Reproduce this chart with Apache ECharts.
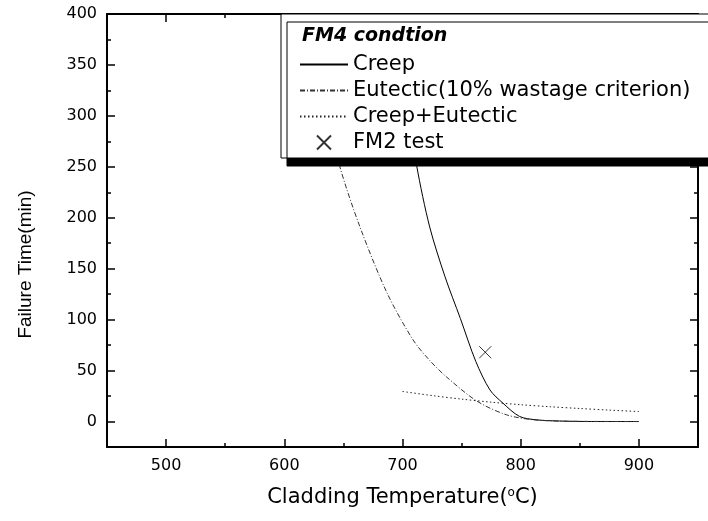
<!DOCTYPE html>
<html>
<head>
<meta charset="utf-8">
<script src="https://cdn.jsdelivr.net/npm/echarts@6/dist/echarts.min.js"></script>
<style>
html, body { margin: 0; padding: 0; background: #fff; }
#chart { width: 708px; height: 521px; }
</style>
</head>
<body>
<div id="chart"></div>
<script>
// 包壳温度 (°C) / 失效时间 (min)
var creepTemp = [690, 700, 712, 723, 736, 749, 762, 774, 785, 799, 813, 833, 860, 900];
var creepTime = [420, 338, 251, 191, 142, 101, 59, 31, 18, 5, 1.7, 0.5, 0, 0];

var eutTemp = [615, 630, 647, 664, 687, 709, 723, 737, 763, 788, 811, 840, 900];
var eutTime = [415, 327, 250, 191, 126, 80, 60, 44, 20, 6.6, 1.7, 0.3, 0];

var sumTemp = [700, 725, 750, 775, 800, 825, 850, 875, 900];
var sumTime = [29.5, 25.5, 22, 19, 16.5, 14.5, 12.8, 11.2, 9.8];

var testTemp = [770];
var testTime = [68];

var xMajor = [500, 600, 700, 800, 900];
var xMinor = [550, 650, 750, 850];
var yMajor = [0, 50, 100, 150, 200, 250, 300, 350, 400];
var yMinor = [25, 75, 125, 175, 225, 275, 325, 375];

function pairs(xs, ys) {
    return xs.map(function (x, i) { return [x, ys[i]]; });
}

var font = 'DejaVu Sans';

function axis(dim, pos, ticks, tickLen, main) {
    return {
        type: 'value',
        position: pos,
        min: dim === 'x' ? 450 : -25,
        max: dim === 'x' ? 950 : 400,
        splitLine: { show: false },
        axisLine: { show: main, onZero: false, lineStyle: { color: '#000', width: 2 } },
        axisTick: { show: true, inside: true, length: tickLen, customValues: ticks, lineStyle: { color: '#000', width: 1.5 } },
        axisLabel: { show: false }
    };
}

var xBottom = axis('x', 'bottom', xMajor, 8, true);
xBottom.axisLabel = { show: true, customValues: xMajor, margin: 11, color: '#000', fontFamily: font, fontSize: 16 };
xBottom.name = 'Cladding Temperature({sup|o}C)';
xBottom.nameLocation = 'middle';
xBottom.nameGap = 40;
xBottom.nameTextStyle = {
    color: '#000', fontFamily: font, fontSize: 21,
    rich: { sup: { fontFamily: font, fontSize: 12, color: '#000', verticalAlign: 'top', padding: [0, 0, 10, 0] } }
};

var yLeft = axis('y', 'left', yMajor, 8, true);
yLeft.axisLabel = { show: true, customValues: yMajor, margin: 10, color: '#000', fontFamily: font, fontSize: 16 };
yLeft.name = 'Failure Time(min)';
yLeft.nameLocation = 'middle';
yLeft.nameGap = 72;
yLeft.nameTextStyle = { color: '#000', fontFamily: 'Liberation Sans', fontSize: 19, padding: [0, 68, 0, 0] };

// 图例里线条不画圆点
var noDot = { color: 'rgba(0,0,0,0)', borderColor: 'rgba(0,0,0,0)', borderWidth: 0 };

var option = {
    animation: false,
    backgroundColor: '#fff',
    grid: { left: 107, right: 10, top: 14, bottom: 74, containLabel: false },
    xAxis: [
        xBottom,
        axis('x', 'bottom', xMinor, 4, false),
        axis('x', 'top', xMajor, 8, true),
        axis('x', 'top', xMinor, 4, false)
    ],
    yAxis: [
        yLeft,
        axis('y', 'left', yMinor, 4, false),
        axis('y', 'right', yMajor, 8, true),
        axis('y', 'right', yMinor, 4, false)
    ],
    legend: {
        orient: 'vertical',
        left: 281,
        top: 14,
        padding: [40, 60, 5, 18],
        itemGap: 5,
        itemWidth: 48,
        itemHeight: 14,
        backgroundColor: '#fff',
        borderColor: '#000',
        borderWidth: 1,
        borderRadius: 0,
        shadowColor: '#000',
        shadowBlur: 0,
        shadowOffsetX: 6,
        shadowOffsetY: 8,
        textStyle: { color: '#000', fontFamily: font, fontSize: 21, lineHeight: 21 },
        data: [
            { name: 'Creep', itemStyle: noDot },
            { name: 'Eutectic(10% wastage criterion)', itemStyle: noDot },
            { name: 'Creep+Eutectic', itemStyle: noDot },
            { name: 'FM2 test' }
        ]
    },
    graphic: [{
        type: 'text',
        z: 100,
        left: 302,
        top: 27,
        style: { text: 'FM4 condtion', fill: '#000', font: 'italic bold 19px "DejaVu Sans"' }
    }],
    series: [
        {
            name: 'Creep', type: 'line', smooth: 0.3, symbol: 'none',
            lineStyle: { color: '#000', width: 1, type: 'solid' },
            itemStyle: { color: '#000' },
            data: pairs(creepTemp, creepTime)
        },
        {
            name: 'Eutectic(10% wastage criterion)', type: 'line', smooth: 0.3, symbol: 'none',
            lineStyle: { color: '#333', width: 1, type: [5, 2, 1, 2] },
            itemStyle: { color: '#333' },
            data: pairs(eutTemp, eutTime)
        },
        {
            name: 'Creep+Eutectic', type: 'line', smooth: 0.3, symbol: 'none',
            lineStyle: { color: '#222', width: 1, type: [1.5, 2.5] },
            itemStyle: { color: '#222' },
            data: pairs(sumTemp, sumTime)
        },
        {
            name: 'FM2 test', type: 'scatter',
            symbol: 'path://M0,0L10,10M10,0L0,10',
            symbolSize: 12,
            symbolKeepAspect: true,
            itemStyle: { color: '#000', borderColor: '#000', borderWidth: 1 },
            data: pairs(testTemp, testTime)
        }
    ]
};

var myChart = echarts.init(document.getElementById('chart'));
myChart.setOption(option);
</script>
</body>
</html>
